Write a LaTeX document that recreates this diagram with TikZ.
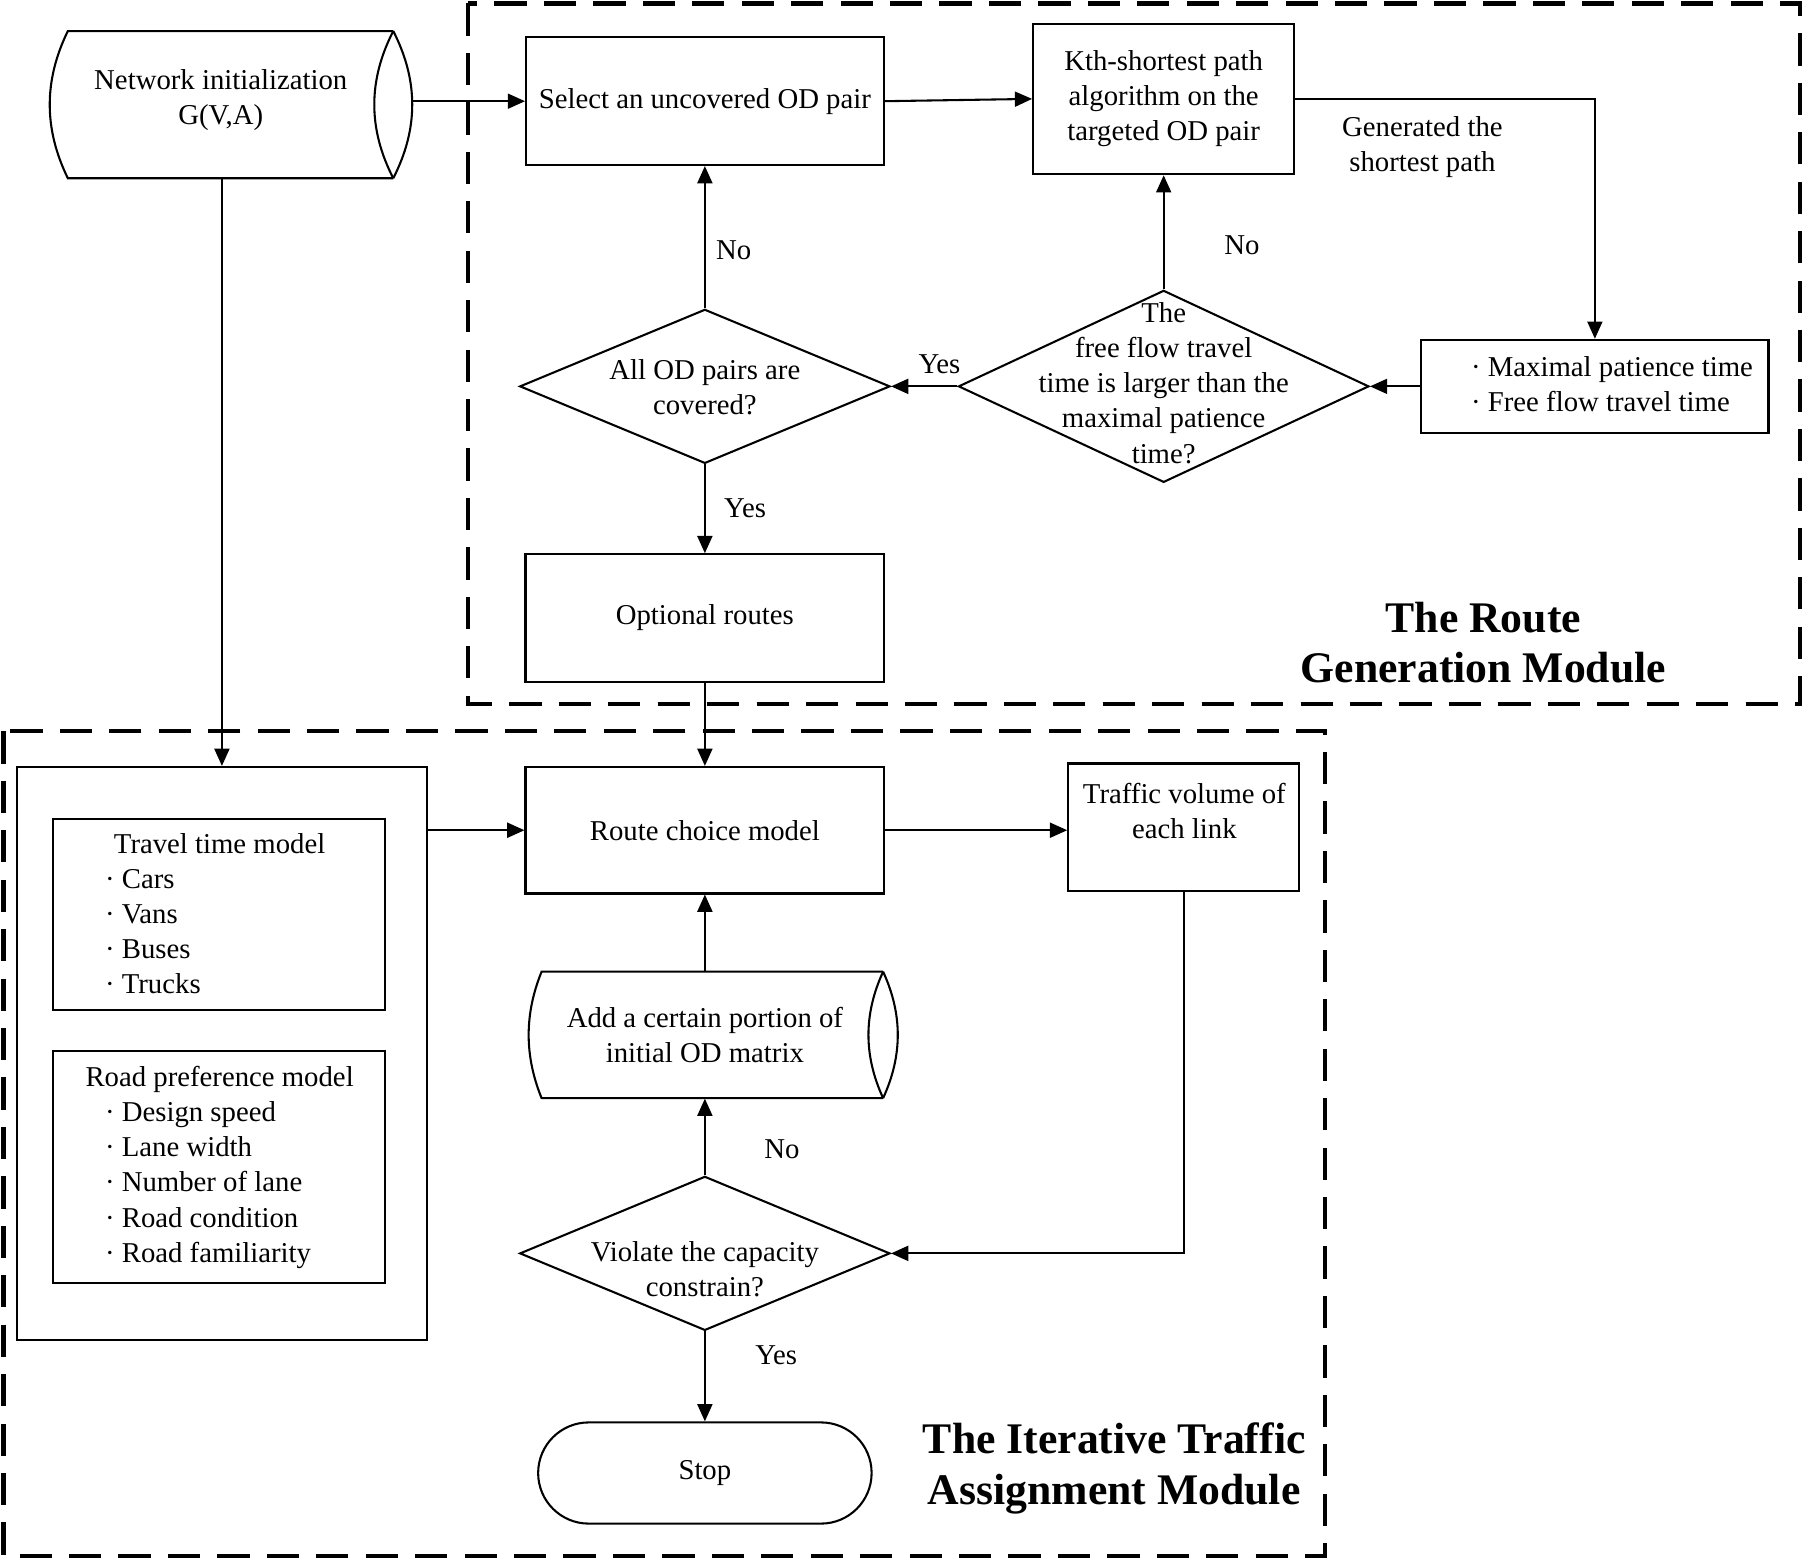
\documentclass[tikz,border=0pt]{standalone}
\usepackage{fontspec}
\setmainfont{Liberation Serif}
\usetikzlibrary{shapes.geometric,shapes.misc,arrows.meta}
\begin{document}
\begin{tikzpicture}[x=0.5pt,y=-0.5pt,
  txt/.style={font=\fontsize{12.5}{15.3}\selectfont, align=center, inner sep=0pt},
  lst/.style={txt, align=left, anchor=west},
  rectn/.style={draw, line width=0.9pt, inner sep=0pt, rectangle},
  dia/.style={draw, line width=0.9pt, shape=diamond, inner sep=0pt},
  ghost/.style={inner sep=0pt, rectangle},
  stopn/.style={draw, line width=0.9pt, shape=rounded rectangle, inner sep=0pt},
  ln/.style={line width=0.9pt, line join=miter},
  arr/.style={line width=0.9pt, -{Triangle[length=7.5pt,width=6.5pt]}},
  module/.style={line width=1.8pt, dash pattern=on 14pt off 7.5pt},
  titl/.style={font=\bfseries\fontsize{19}{22}\selectfont, align=center, inner sep=0pt}
]
\useasboundingbox (0,0) rectangle (1568,1356);

% module frames
\draw[module] (407,3) rectangle (1565,612);
\draw[module] (3,636) rectangle (1152,1353);

% Network initialization (stored-data shape)
\node[ghost, minimum width=158pt, minimum height=64pt] (net) at (201,91) {};
\draw[ln] (342,27) -- (59,27) .. controls (38,70) and (38,112) .. (59,155) -- (342,155);
\draw[ln] (342,27) .. controls (364,70) and (364,112) .. (342,155);
\draw[ln] (342,27) .. controls (320,70) and (320,112) .. (342,155);
\node[txt] (nett) at (192,87) {Network initialization\\G(V,A)};

% top row
\node[rectn, minimum width=155.5pt, minimum height=55.5pt, txt] (sel) at (613,88) {Select an uncovered OD pair};
\node[rectn, minimum width=113.5pt, minimum height=65.5pt, txt] (kth) at (1012,86) {Kth-shortest path\\algorithm on the\\targeted OD pair};
\node[txt] (gen) at (1237,128) {Generated the\\shortest path};

\node[rectn, minimum width=151pt, minimum height=40.5pt] (max) at (1387,336) {};
\node[lst] (maxt) at (1279,334) {·\ Maximal patience time\\·\ Free flow travel time};

\node[dia, minimum width=178.5pt, minimum height=83.5pt] (d1) at (1012,336) {};
\node[txt] (d1t) at (1012,333) {The\\free flow travel\\time is larger than the\\maximal patience\\time?};

\node[dia, minimum width=161pt, minimum height=67pt] (d2) at (613,336) {};
\node[txt] (d2t) at (613,337) {All OD pairs are\\covered?};

\node[rectn, minimum width=156pt, minimum height=55.5pt, txt] (opt) at (613,537.5) {Optional routes};

% lower module
\node[rectn, minimum width=156pt, minimum height=55pt, txt] (rcm) at (613,722) {Route choice model};
\node[rectn, minimum width=100.5pt, minimum height=55.5pt] (tv) at (1029.5,719.5) {};
\node[txt] (tvt) at (1030,705) {Traffic volume of\\each link};

\node[rectn, minimum width=178pt, minimum height=249pt] (big) at (193,916) {};
\node[rectn, minimum width=144.5pt, minimum height=83pt] (ttm) at (190.5,795) {};
\node[txt] (ttmt) at (191,734) {Travel time model};
\node[lst] (ttml) at (91,810) {·\ Cars\\·\ Vans\\·\ Buses\\·\ Trucks};
\node[rectn, minimum width=144.5pt, minimum height=101pt] (rpm) at (190.5,1015) {};
\node[txt] (rpmt) at (191,939) {Road preference model};
\node[lst] (rpml) at (91,1030.5) {·\ Design speed\\·\ Lane width\\·\ Number of lane\\·\ Road condition\\·\ Road familiarity};

% Add a certain portion (stored-data shape)
\node[ghost, minimum width=160.5pt, minimum height=55pt] (add) at (620.5,900) {};
\draw[ln] (768,845) -- (471,845) .. controls (456,882) and (456,918) .. (471,955) -- (768,955);
\draw[ln] (768,845) .. controls (785,882) and (785,918) .. (768,955);
\draw[ln] (768,845) .. controls (751,882) and (751,918) .. (768,955);
\node[txt] (addt) at (613,900) {Add a certain portion of\\initial OD matrix};

\node[dia, minimum width=161pt, minimum height=67pt] (vio) at (613,1090) {};
\node[txt] (viot) at (613,1104) {Violate the capacity\\constrain?};

\node[stopn, minimum width=145pt, minimum height=44pt, txt] (stop) at (613,1281) {Stop};

% titles
\node[titl] (t1) at (1290,559) {The Route\\Generation Module};
\node[titl] (t2) at (969,1277) {The Iterative Traffic\\Assignment Module};

% labels
\node[txt] (l1) at (638,218) {No};
\node[txt] (l2) at (817,317) {Yes};
\node[txt] (l3) at (1080,213) {No};
\node[txt] (l4) at (648,442) {Yes};
\node[txt] (l5) at (680,999) {No};
\node[txt] (l6) at (675,1179) {Yes};

% connectors
\draw[arr] (net.east |- sel.west) -- (sel.west);
\draw[arr] (net.south -| big.north) -- (big.north);
\draw[arr] (sel.east) -- (kth.west);
\draw[arr] (kth.east) -| (max.north);
\draw[arr] (max.west) -- (d1.east);
\draw[arr] (d1.north) -- (kth.south);
\draw[arr] (d1.west) -- (d2.east);
\draw[arr] (d2.north) -- (sel.south);
\draw[arr] (d2.south) -- (opt.north);
\draw[arr] (opt.south) -- (rcm.north);
\draw[arr] (big.east |- rcm.west) -- (rcm.west);
\draw[arr] (rcm.east) -- (tv.west |- rcm.east);
\draw[arr] (tv.south) |- (vio.east);
\draw[arr] (vio.north) -- (add.south -| vio.north);
\draw[arr] (add.north -| rcm.south) -- (rcm.south);
\draw[arr] (vio.south) -- (stop.north);
\end{tikzpicture}
\end{document}
